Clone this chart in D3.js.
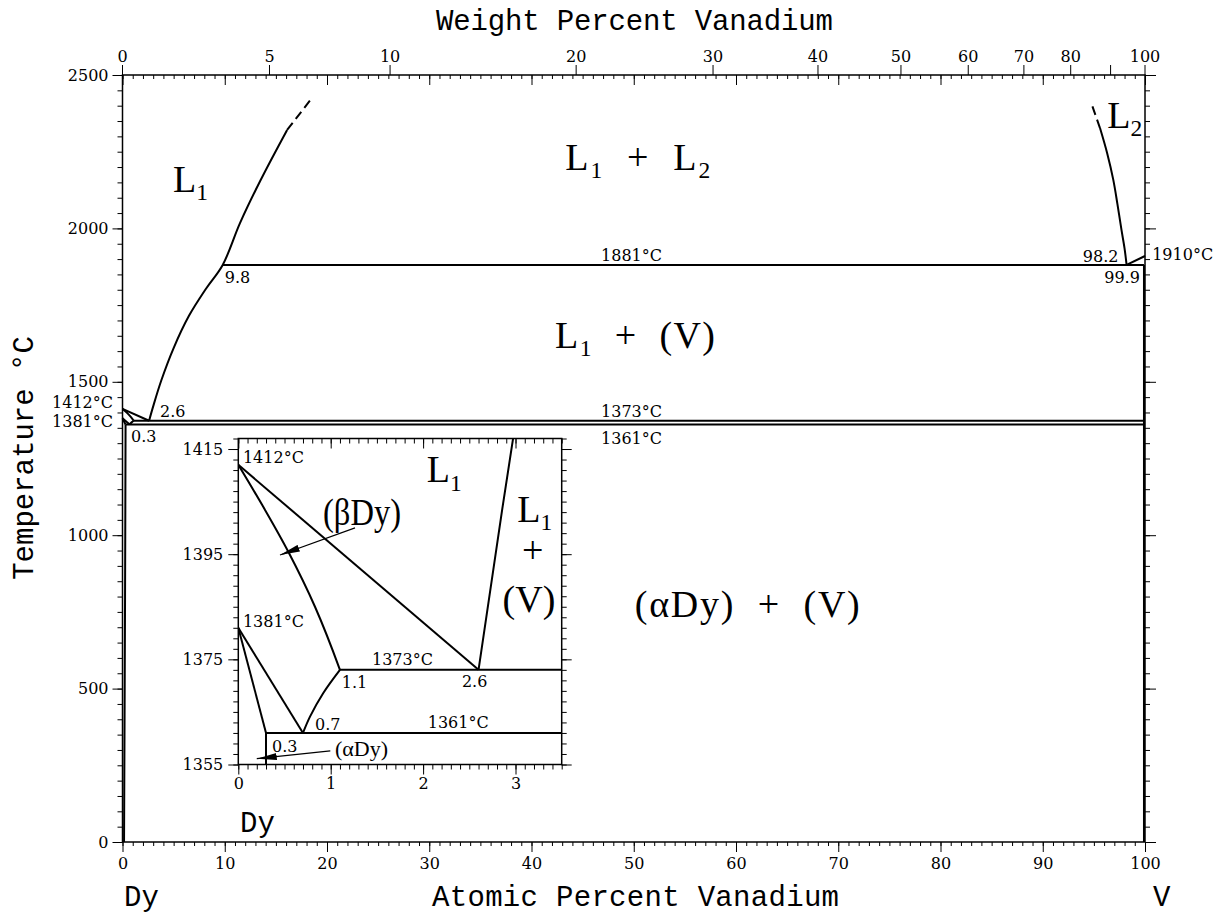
<!DOCTYPE html>
<html><head><meta charset="utf-8">
<script src="https://cdn.jsdelivr.net/npm/d3@7"></script>
<style>body{margin:0;background:#fff} svg{display:block} text{white-space:pre}</style>
</head><body>
<svg id="chart" width="1218" height="915"></svg>
<script>
// ---------------- data ----------------
const atomicMajor = [0,10,20,30,40,50,60,70,80,90,100];
const atomicMinor = d3.range(0,101,1);
const weightTicks = [0,5,10,20,30,40,50,60,70,80,90,100];
const weightLabels = ["0","5","10","20","30","40","50","60","70","80","","100"];
const tempMajor = [0,500,1000,1500,2000,2500];
const tempMinor = d3.range(0,2501,50);
const insetXMajor = [0,1,2,3];
const insetXMinor = d3.range(0,35.01,1).map(d=>d/10);
const insetTMajor = [1355,1375,1395,1415];
const insetTMinor = d3.range(1355,1418,2);

// phase boundaries [at.% V, °C]
const liquidusL1 = [[2.6,1373],[3.0,1420],[3.8,1505],[5.0,1610],[6.5,1715],[8.2,1805],[9.8,1881],[11.5,2018],[13.5,2157],[16.1,2321]];
const liquidusL1Dashed = [[16.1,2321],[18.6,2428]];
const liquidusL2 = [[98.2,1881],[98.0,1935],[97.7,1995],[97.3,2080],[96.9,2158],[96.3,2245],[95.6,2327]];
const liquidusL2Dashed = [[95.6,2327],[94.7,2413]];
const monotectic = [[9.8,1881],[99.9,1881]];
const liquidusV = [[98.2,1881],[100,1910]];
const solvusV = [[99.9,1881],[99.9,0]];
const eutectic = [[1.1,1373],[99.9,1373]];
const eutectoid = [[0.3,1361],[99.9,1361]];
const liquidusDy = [[0,1412],[2.6,1373]];
const solidusBetaDy = [[0,1412],[0.27,1404],[0.54,1395.5],[0.83,1385],[1.1,1373]];
const transusUpper = [[0,1381],[0.7,1361]];
const transusLower = [[0,1381],[0.3,1361]];
const solvusBetaDy = [[0.7,1361],[0.776,1364.1],[0.92,1368.6],[1.1,1373]];
const solvusAlphaDy = [[0.3,1361],[0.25,800],[0.15,0]];
const insetStub = [[0.3,1361],[0.3,1355]];

const solidLines = [liquidusL1, liquidusL2, monotectic, liquidusV, solvusV, eutectic, eutectoid,
                    liquidusDy, solidusBetaDy, transusUpper, transusLower, solvusBetaDy, solvusAlphaDy];
const dashedLines = [liquidusL1Dashed, liquidusL2Dashed];
const insetLines = [liquidusL1, eutectic, eutectoid, liquidusDy, solidusBetaDy, transusUpper, transusLower, solvusBetaDy, insetStub];

// annotations [text, x, T, anchor]
const mainNotes = [
  ["1881°C",46.8,1894,"start"],["9.8",10.0,1822,"start"],["98.2",97.4,1890,"end"],
  ["99.9",99.5,1822,"end"],["1910°C",100.7,1897,"start"],["2.6",3.67,1385,"start"],
  ["0.3",0.83,1304,"start"],["1412°C",-0.93,1415,"end"],["1381°C",-0.93,1353,"end"],
  ["1373°C",46.8,1385,"start"],["1361°C",46.8,1297,"start"]
];
const insetNotes = [
  ["1412°C",0.05,1412.3],["1381°C",0.05,1381.1],["1.1",1.12,1369.55],["0.7",0.83,1361.6],
  ["0.3",0.365,1357.4],["1373°C",1.447,1373.9],["2.6",2.42,1369.7],["1361°C",2.05,1362.0]
];
// region labels: parts [text, isSub], w = printed width
const mainRegions = [
  {x:4.94, T:2119, parts:[["L"],["1",1]]},
  {x:43.3, T:2190, w:145, parts:[["L"],["1",1],["  +  "],["L"],["2",1]]},
  {x:96.3, T:2327, parts:[["L"],["2",1]]},
  {x:42.3, T:1610, w:160, parts:[["L"],["1",1],["  +  (V)"]]},
  {x:50.1, T:733, w:225, parts:[["(αDy)  +  (V)"]]}
];
const insetRegions = [
  {x:2.04, T:1408.7, parts:[["L"],["1",1]]},
  {x:3.02, T:1401.1, parts:[["L"],["1",1]]},
  {x:3.07, T:1393.3, parts:[["+"]]},
  {x:2.86, T:1384.0, parts:[["(V)"]]},
  {x:0.917, T:1400.5, w:78, fit:1, parts:[["(βDy)"]]}
];
const insetArrows = [
  {text:"(αDy)", tx:1.046, tT:1356.6, from:[0.996,1357.6], to:[0.2,1356.1]},
  {from:[1.263,1400.0], to:[0.451,1394.85]}
];

// ---------------- drawing ----------------
const svg = d3.select("#chart");
svg.append("rect").attr("width",1218).attr("height",915).attr("fill","#fff");
svg.append("defs").append("marker").attr("id","arr").attr("viewBox","0 0 20 8")
  .attr("refX",20).attr("refY",4).attr("markerWidth",20).attr("markerHeight",8)
  .attr("markerUnits","userSpaceOnUse").attr("orient","auto")
  .append("path").attr("d","M0,0.5 L20,4 L0,7.5 Z").attr("fill","#000");

const NUMFONT = "DejaVu Serif";
const TXTFONT = "Liberation Serif";
const TITLEFONT = "Liberation Mono";

const x = d3.scaleLinear().domain([0,100]).range([122.5,1145]);
const y = d3.scaleLinear().domain([0,2500]).range([842,75]);
// weight % -> atomic %
const MDy = 162.5, MV = 50.9415;
const wt2at = w => w>=100 ? 100 : 100*(w/MV)/((w/MV)+((100-w)/MDy));

function styleAxis(g){
  g.select(".domain").remove();
  g.selectAll("line").attr("stroke","#000").attr("stroke-width",1);
  g.selectAll("text").attr("font-family",NUMFONT).attr("font-size",16).attr("fill","#000");
}
const main = svg.append("g");
main.append("g").attr("transform",`translate(0,${y(0)})`)
  .call(d3.axisBottom(x).tickValues(atomicMinor).tickSize(4).tickFormat("")).call(styleAxis);
main.append("g").attr("transform",`translate(0,${y(0)})`)
  .call(d3.axisBottom(x).tickValues(atomicMajor).tickSize(10).tickPadding(6).tickFormat(d3.format("d"))).call(styleAxis);
main.append("g").attr("transform",`translate(0,${y(2500)})`)
  .call(d3.axisBottom(x).tickValues(atomicMinor).tickSize(4).tickFormat("")).call(styleAxis);
main.append("g").attr("transform",`translate(0,${y(2500)})`)
  .call(d3.axisBottom(x).tickValues(atomicMajor).tickSize(10).tickFormat("")).call(styleAxis);
const wg = main.append("g").attr("transform",`translate(0,${y(2500)})`);
wg.selectAll("line").data(weightTicks).join("line")
  .attr("x1",d=>x(wt2at(d))).attr("x2",d=>x(wt2at(d))).attr("y1",0).attr("y2",-10)
  .attr("stroke","#000");
wg.selectAll("text").data(weightTicks).join("text")
  .attr("x",d=>x(wt2at(d))).attr("y",-13).attr("text-anchor","middle")
  .attr("font-family",NUMFONT).attr("font-size",16).text((d,i)=>weightLabels[i]);

main.append("g").attr("transform",`translate(${x(0)},0)`)
  .call(d3.axisLeft(y).tickValues(tempMinor).tickSize(5).tickFormat("")).call(styleAxis);
main.append("g").attr("transform",`translate(${x(0)},0)`)
  .call(d3.axisLeft(y).tickValues(tempMajor).tickSize(10).tickPadding(4).tickFormat(d3.format("d"))).call(styleAxis);
main.append("g").attr("transform",`translate(${x(100)},0)`)
  .call(d3.axisRight(y).tickValues(tempMinor).tickSize(5).tickFormat("")).call(styleAxis);
main.append("g").attr("transform",`translate(${x(100)},0)`)
  .call(d3.axisRight(y).tickValues(tempMajor).tickSize(11).tickFormat("")).call(styleAxis);

main.append("rect").attr("x",x(0)).attr("y",y(2500)).attr("width",x(100)-x(0)).attr("height",y(0)-y(2500))
  .attr("fill","none").attr("stroke","#000").attr("stroke-width",1.5);

// titles
function title(tx, ty, s, len, rot){
  const t = svg.append("text").attr("font-family",TITLEFONT).attr("font-size",29).text(s);
  if(rot) t.attr("transform",`translate(${tx},${ty}) rotate(-90)`).attr("text-anchor","middle");
  else t.attr("x",tx).attr("y",ty);
  if(len) t.attr("textLength",len).attr("lengthAdjust","spacing");
  return t;
}
title(436,30,"Weight Percent Vanadium",397);
title(432,906,"Atomic Percent Vanadium",407);
title(124,906,"Dy");
title(1153,906,"V");
title(33,458,"Temperature °C",null,true);

const line = d3.line().x(d=>x(d[0])).y(d=>y(d[1])).curve(d3.curveCatmullRom);
main.selectAll("path.solid").data(solidLines).join("path").attr("class","solid")
  .attr("d",line).attr("fill","none").attr("stroke","#000").attr("stroke-width",2);
main.selectAll("path.dash").data(dashedLines).join("path").attr("class","dash")
  .attr("d",line).attr("fill","none").attr("stroke","#000").attr("stroke-width",2).attr("stroke-dasharray","9,5");

main.selectAll("text.note").data(mainNotes).join("text").attr("class","note")
  .attr("x",d=>x(d[1])).attr("y",d=>y(d[2])).attr("text-anchor",d=>d[3])
  .attr("font-family",NUMFONT).attr("font-size",16).text(d=>d[0]);

function region(g, sx, sy, r, size){
  const t = g.append("text").attr("x",sx(r.x)).attr("y",sy(r.T))
    .attr("font-family",TXTFONT).attr("font-size",size);
  let down = false;
  r.parts.forEach(p=>{
    const ts = t.append("tspan").text(p[0]);
    if(p[1]){ ts.attr("font-size",size*0.62).attr("dy",size*0.22); down=true; }
    else if(down){ ts.attr("dy",-size*0.22); down=false; }
  });
  if(r.w) t.attr("textLength",r.w).attr("lengthAdjust",r.fit?"spacingAndGlyphs":"spacing");
}
mainRegions.forEach(r=>region(main,x,y,r,38));

// ---------------- inset ----------------
const ix = d3.scaleLinear().domain([0,3.5]).range([238.3,561.7]);
const iy = d3.scaleLinear().domain([1355,1417]).range([764.5,438.5]);
const inset = svg.append("g");
inset.append("rect").attr("x",ix(0)).attr("y",iy(1417)).attr("width",ix(3.5)-ix(0)).attr("height",iy(1355)-iy(1417))
  .attr("fill","#fff");
inset.append("clipPath").attr("id","iclip").append("rect")
  .attr("x",ix(0)).attr("y",iy(1417)).attr("width",ix(3.5)-ix(0)).attr("height",iy(1355)-iy(1417));

inset.append("g").attr("transform",`translate(0,${iy(1355)})`)
  .call(d3.axisBottom(ix).tickValues(insetXMinor).tickSize(5).tickFormat("")).call(styleAxis);
inset.append("g").attr("transform",`translate(0,${iy(1355)})`)
  .call(d3.axisBottom(ix).tickValues(insetXMajor).tickSize(10).tickPadding(3).tickFormat(d3.format("d"))).call(styleAxis);
inset.append("g").attr("transform",`translate(0,${iy(1417)})`)
  .call(d3.axisBottom(ix).tickValues(insetXMinor).tickSize(5).tickFormat("")).call(styleAxis);
inset.append("g").attr("transform",`translate(0,${iy(1417)})`)
  .call(d3.axisBottom(ix).tickValues(insetXMajor).tickSize(10).tickFormat("")).call(styleAxis);
inset.append("g").attr("transform",`translate(${ix(0)},0)`)
  .call(d3.axisLeft(iy).tickValues(insetTMinor).tickSize(5).tickFormat("")).call(styleAxis);
inset.append("g").attr("transform",`translate(${ix(0)},0)`)
  .call(d3.axisLeft(iy).tickValues(insetTMajor).tickSize(10).tickPadding(5).tickFormat(d3.format("d"))).call(styleAxis);
inset.append("g").attr("transform",`translate(${ix(3.5)},0)`)
  .call(d3.axisRight(iy).tickValues(insetTMinor).tickSize(5).tickFormat("")).call(styleAxis);
inset.append("g").attr("transform",`translate(${ix(3.5)},0)`)
  .call(d3.axisRight(iy).tickValues(insetTMajor).tickSize(10).tickFormat("")).call(styleAxis);
inset.append("rect").attr("x",ix(0)).attr("y",iy(1417)).attr("width",ix(3.5)-ix(0)).attr("height",iy(1355)-iy(1417))
  .attr("fill","none").attr("stroke","#000").attr("stroke-width",1.5);

const iline = d3.line().x(d=>ix(d[0])).y(d=>iy(d[1])).curve(d3.curveCatmullRom);
inset.append("g").attr("clip-path","url(#iclip)").selectAll("path").data(insetLines).join("path")
  .attr("d",iline).attr("fill","none").attr("stroke","#000").attr("stroke-width",2);

inset.selectAll("text.note").data(insetNotes).join("text").attr("class","note")
  .attr("x",d=>ix(d[1])).attr("y",d=>iy(d[2]))
  .attr("font-family",NUMFONT).attr("font-size",16).text(d=>d[0]);
insetRegions.forEach(r=>region(inset,ix,iy,r,38));
insetArrows.forEach(a=>{
  inset.append("line").attr("x1",ix(a.from[0])).attr("y1",iy(a.from[1]))
    .attr("x2",ix(a.to[0])).attr("y2",iy(a.to[1])).attr("stroke","#000").attr("stroke-width",1.2)
    .attr("marker-end","url(#arr)");
  if(a.text) inset.append("text").attr("x",ix(a.tx)).attr("y",iy(a.tT))
    .attr("font-family",TXTFONT).attr("font-size",22).text(a.text);
});
svg.append("text").attr("x",240).attr("y",832).attr("font-family",TITLEFONT).attr("font-size",29).text("Dy");
</script>
</body></html>
